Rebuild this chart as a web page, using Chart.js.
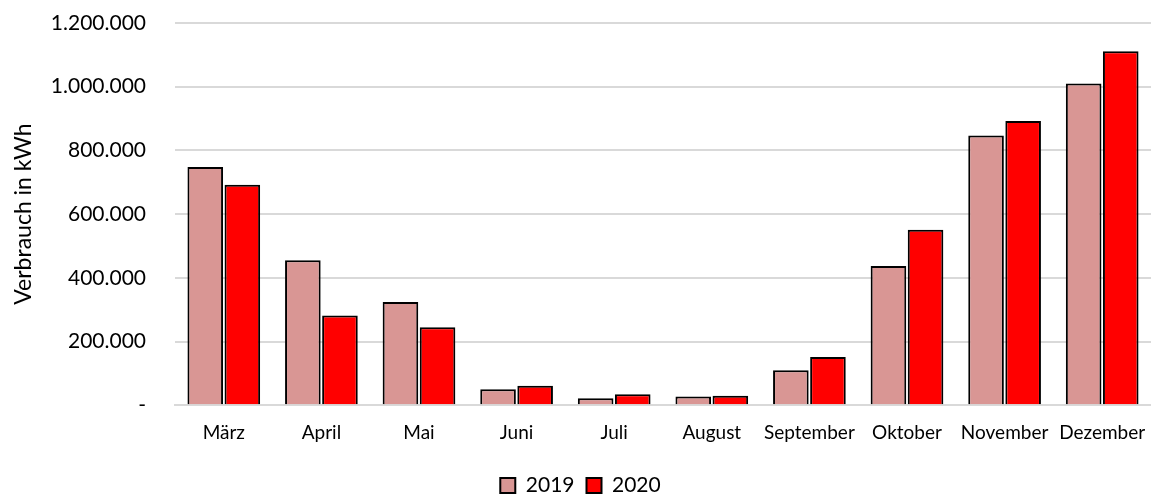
<!DOCTYPE html>
<html>
<head>
<meta charset="utf-8">
<script src="https://cdn.jsdelivr.net/npm/chart.js@4"></script>
<style>
  html, body { margin: 0; padding: 0; background: #fff; }
  #wrap { width: 1151px; height: 496px; }
</style>
</head>
<body>
<div id="wrap"><canvas id="verbrauchChart"></canvas></div>
<script>
// Monthly consumption in kWh
const months = ['März', 'April', 'Mai', 'Juni', 'Juli', 'August', 'September', 'Oktober', 'November', 'Dezember'];
const values2019 = [748000, 455000, 324000, 50000, 22000, 27000, 110000, 437000, 847000, 1010000];
const values2020 = [692000, 282000, 245000, 61000, 34000, 30000, 151000, 551000, 892000, 1111000];
const yMax = 1200000;
const yStep = 200000;

const fontFamily = 'Lato, "Open Sans", sans-serif';

// nudge the legend a bit lower, closer to the bottom edge like the original
const legendShift = {
  id: 'legendShift',
  afterLayout(chart) {
    chart.legend.top += 3;
    chart.legend.bottom += 3;
  }
};

const ctx = document.getElementById('verbrauchChart').getContext('2d');
new Chart(ctx, {
  type: 'bar',
  data: {
    labels: months,
    datasets: [{
      label: '2019',
      data: values2019,
      backgroundColor: '#d99694',
      borderColor: '#000000',
      borderWidth: 2,
      barPercentage: 0.96,
      categoryPercentage: 0.76
    }, {
      label: '2020',
      data: values2020,
      backgroundColor: '#ff0000',
      borderColor: '#000000',
      borderWidth: 2,
      barPercentage: 0.96,
      categoryPercentage: 0.76
    }]
  },
  plugins: [legendShift],
  options: {
    responsive: true,
    maintainAspectRatio: false,
    animation: false,
    layout: { padding: { top: 23, right: 0, bottom: -7, left: 10 } },
    plugins: {
      tooltip: { enabled: false },
      legend: {
        position: 'bottom',
        labels: {
          font: { family: fontFamily, size: 21 },
          color: '#000',
          boxWidth: 15,
          boxHeight: 15,
          padding: 12
        }
      }
    },
    scales: {
      x: {
        afterFit: (scale) => { scale.paddingLeft = 0; scale.paddingRight = 0; },
        grid: { display: false, drawTicks: false },
        border: { color: '#d9d9d9', width: 2 },
        ticks: {
          font: { family: fontFamily, size: 19 },
          color: '#000',
          padding: 16,
          maxRotation: 0,
          autoSkip: false
        }
      },
      y: {
        min: 0,
        max: yMax,
        afterFit: (scale) => {
          scale.width = 165;
          scale.paddingTop = 0;
          scale.paddingBottom = 0;
        },
        grid: { color: '#d9d9d9', lineWidth: 2, drawTicks: false },
        border: { display: false },
        ticks: {
          stepSize: yStep,
          padding: 29,
          font: { family: fontFamily, size: 21 },
          color: '#000',
          callback: (v) => v === 0 ? '-' : v.toLocaleString('de-DE')
        },
        title: {
          display: true,
          text: 'Verbrauch in kWh',
          font: { family: fontFamily, size: 23 },
          color: '#000',
          padding: { top: 0, bottom: 0 }
        }
      }
    }
  }
});
</script>
</body>
</html>
